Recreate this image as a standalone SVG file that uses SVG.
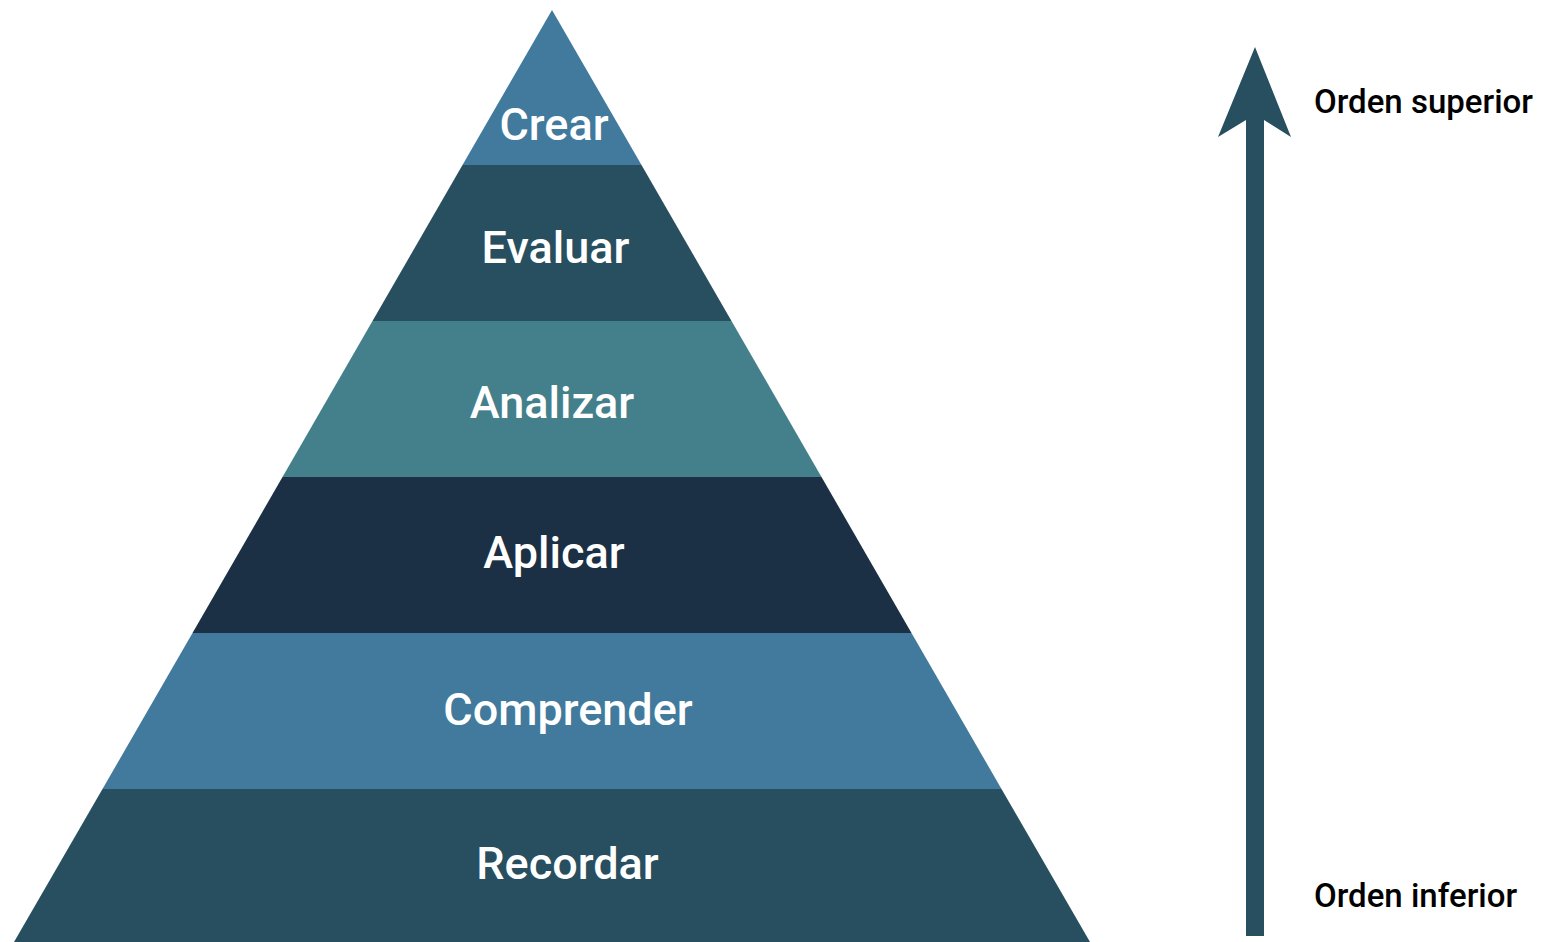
<svg xmlns="http://www.w3.org/2000/svg" width="1543" height="942" viewBox="0 0 1543 942">
<style>
.lbl{font-family:Roboto,"Liberation Sans",sans-serif;font-weight:500;font-size:45px;fill:#ffffff;text-anchor:middle}
.side{font-family:Roboto,"Liberation Sans",sans-serif;font-weight:500;font-size:33px;fill:#000000}
</style>
<rect width="1543" height="942" fill="#ffffff"/>
<g id="crear"><polygon points="552,10 641.5,165 462.5,165" fill="#417a9c"/><text class="lbl" x="554" y="140">Crear</text></g>
<g id="evaluar"><polygon points="462.5,165 641.5,165 731.5,321 372.5,321" fill="#284f5f"/><text class="lbl" x="555.5" y="263">Evaluar</text></g>
<g id="analizar"><polygon points="372.5,321 731.5,321 821.5,477 282.5,477" fill="#44808b"/><text class="lbl" x="552" y="418">Analizar</text></g>
<g id="aplicar"><polygon points="282.5,477 821.5,477 911.5,633 192.5,633" fill="#1b3045"/><text class="lbl" x="554" y="568">Aplicar</text></g>
<g id="comprender"><polygon points="192.5,633 911.5,633 1001.5,789 102.5,789" fill="#417a9c"/><text class="lbl" x="568" y="725">Comprender</text></g>
<g id="recordar"><polygon points="102.5,789 1001.5,789 1090,942 14,942" fill="#284f5f"/><text class="lbl" x="567.5" y="879">Recordar</text></g>
<g id="connectors"><polygon points="1255,47 1291,137 1264,120 1264,936 1246,936 1246,120 1218,137" fill="#284f5f"/></g>
<g id="orden-superior"><text class="side" x="1314" y="113">Orden superior</text></g>
<g id="orden-inferior"><text class="side" x="1314" y="907">Orden inferior</text></g>
</svg>
